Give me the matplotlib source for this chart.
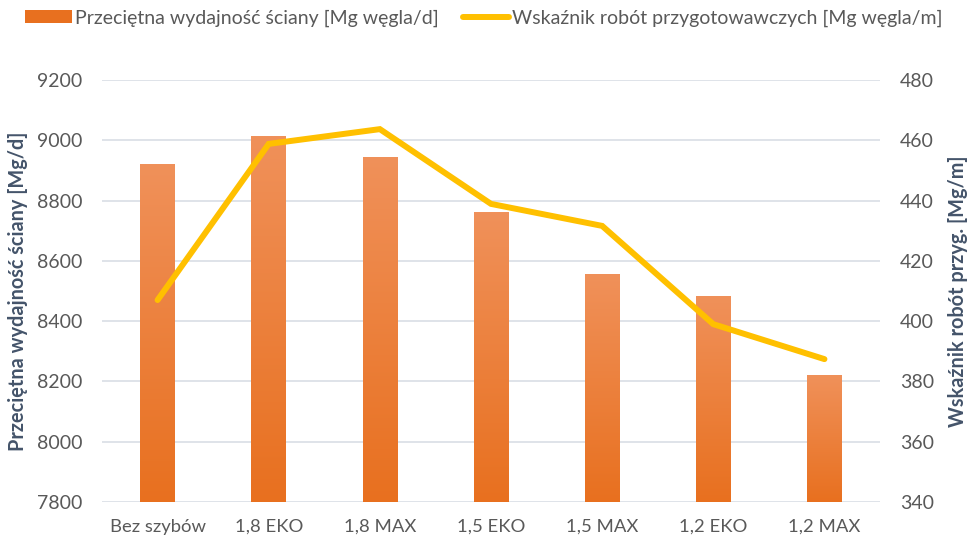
import numpy as np
import matplotlib
matplotlib.use("Agg")
import matplotlib.pyplot as plt
from matplotlib.colors import LinearSegmentedColormap
from matplotlib.patches import Patch
from matplotlib.lines import Line2D

plt.rcParams['font.family'] = ['Lato', 'DejaVu Sans']

categories = ["Bez szybów", "1,8 EKO", "1,8 MAX", "1,5 EKO", "1,5 MAX", "1,2 EKO", "1,2 MAX"]
wydajnosc = [8921, 9014, 8945, 8762, 8556, 8483, 8221]
wskaznik = [407.0, 458.8, 463.7, 438.9, 431.6, 399.0, 387.4]

left_ticks = [7800, 8000, 8200, 8400, 8600, 8800, 9000, 9200]
right_ticks = [340, 360, 380, 400, 420, 440, 460, 480]

label_bar = "Przeciętna wydajność ściany [Mg węgla/d]"
label_line = "Wskaźnik robót przygotowawczych [Mg węgla/m]"

tick_color = "#595959"
title_color = "#44546A"
grid_color = "#D9DEE5"
bar_dark = "#E8701F"
bar_light = "#F0915A"
line_color = "#FFC000"

fig = plt.figure(figsize=(9.68, 5.39), dpi=100)
ax = fig.add_axes([102/968, 1 - 502/539, (880-102)/968, (502-80)/539])
ax2 = ax.twinx()

x = np.arange(len(categories))
bars = ax.bar(x, wydajnosc, width=0.31, bottom=0, color=bar_dark, zorder=2)

# vertical gradient fill inside each bar
cmap = LinearSegmentedColormap.from_list("barfill", [bar_dark, bar_light])
grad = np.linspace(0, 1, 256).reshape(-1, 1)
for b in bars:
    x0 = b.get_x()
    w = b.get_width()
    h = b.get_height()
    im = ax.imshow(grad, extent=[x0, x0 + w, left_ticks[0], h], origin="lower",
                   aspect="auto", cmap=cmap, zorder=3)
    im.set_clip_path(b)

ax.set_xlim(-0.5, len(categories) - 0.5)
ax.set_ylim(left_ticks[0], left_ticks[-1])
ax.set_yticks(left_ticks)
ax.set_xticks(x)
ax.set_xticklabels(categories)
ax.grid(axis="y", color=grid_color, linewidth=1.2, zorder=0)
ax.set_axisbelow(True)

ax2.plot(x, wskaznik, color=line_color, linewidth=4.3, solid_capstyle="round",
         solid_joinstyle="miter", zorder=5)
ax2.set_ylim(right_ticks[0], right_ticks[-1])
ax2.set_yticks(right_ticks)

for a in (ax, ax2):
    for s in a.spines.values():
        s.set_visible(False)
    a.tick_params(length=0, colors=tick_color)
ax.tick_params(axis="y", pad=14.4, labelsize=14)
ax.tick_params(axis="x", pad=12, labelsize=13.3)
ax2.tick_params(axis="y", pad=14.4, labelsize=14)

ax.set_ylabel("Przeciętna wydajność ściany [Mg/d]", fontsize=14.3, fontweight="bold",
              color=title_color, labelpad=6)
ax2.set_ylabel("Wskaźnik robót przyg. [Mg/m]", fontsize=14.3, fontweight="bold",
               color=title_color, labelpad=10)

handles = [Patch(facecolor=bar_dark, edgecolor="none"),
           Line2D([0], [0], color=line_color, linewidth=4.3, solid_capstyle="round")]
fig.legend(handles, [label_bar, label_line], loc="center", bbox_to_anchor=(0.5, 1 - 18/539),
           ncol=2, frameon=False, fontsize=14, labelcolor=tick_color,
           handlelength=2.4, handleheight=0.6, handletextpad=0.15, columnspacing=1.25,
           borderpad=0.2)

fig.savefig("out.png", dpi=100)
